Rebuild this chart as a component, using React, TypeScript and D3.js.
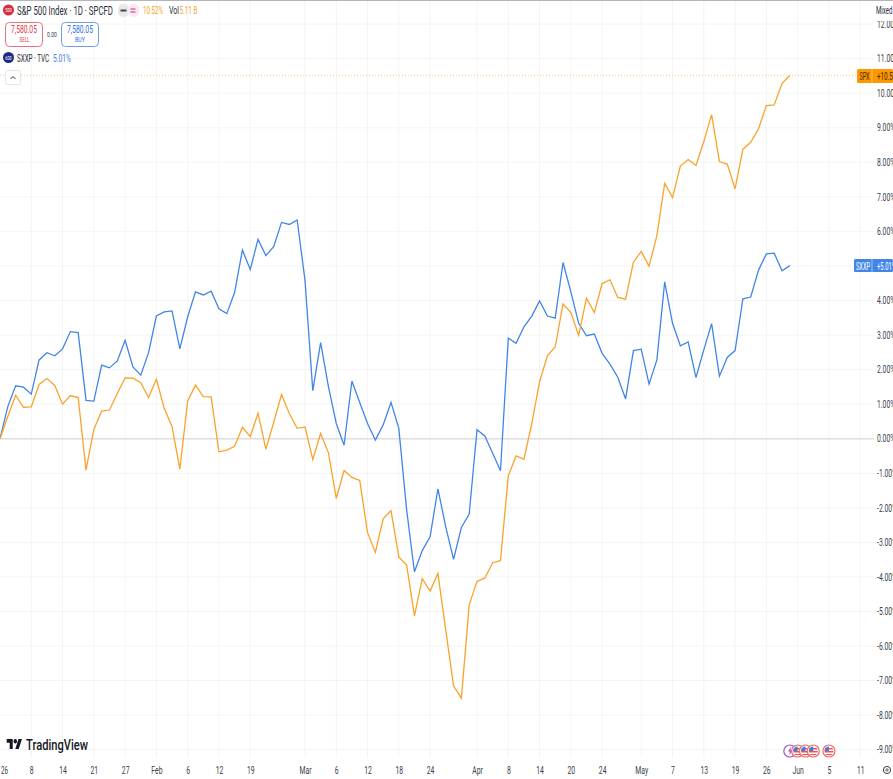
import React, { useEffect, useRef } from 'react';
import * as d3 from 'd3';

// percent change since the start of the window
const spxValues = [
  0, 0.64, 1.26, 0.91, 0.92, 1.57, 1.74, 1.54, 1.0, 1.25,
  1.19, -0.91, 0.27, 0.8, 0.83, 1.31, 1.76, 1.75, 1.62, 1.19,
  1.72, 0.88, 0.35, -0.88, 1.09, 1.55, 1.22, 1.21, -0.38, -0.33,
  -0.22, 0.33, 0.06, 0.74, -0.3, 0.47, 1.28, 0.73, 0.3, 0.34,
  -0.6, 0.15, -0.41, -1.73, -0.92, -1.12, -1.21, -2.72, -3.29, -2.32,
  -2.08, -3.42, -3.66, -5.13, -4.05, -4.41, -3.9, -5.54, -7.15, -7.51,
  -4.81, -4.13, -4.03, -3.59, -3.53, -1.07, -0.5, -0.6, 0.44, 1.65,
  2.4, 2.66, 3.9, 3.65, 2.99, 4.07, 3.65, 4.49, 4.6, 4.09,
  4.04, 5.11, 5.42, 4.99, 5.88, 7.39, 6.98, 7.89, 8.08, 7.91,
  8.6, 9.38, 8.02, 7.95, 7.23, 8.38, 8.58, 8.97, 9.64, 9.66,
  10.28, 10.52,
];
const sxxpValues = [
  0, 0.93, 1.53, 1.49, 1.29, 2.28, 2.49, 2.4, 2.6, 3.1,
  3.07, 1.11, 1.09, 2.13, 2.05, 2.25, 2.85, 2.08, 1.84, 2.49,
  3.55, 3.67, 3.7, 2.6, 3.53, 4.25, 4.16, 4.27, 3.76, 3.62,
  4.23, 5.46, 4.9, 5.77, 5.3, 5.56, 6.26, 6.2, 6.33, 4.59,
  1.39, 2.78, 1.51, 0.44, -0.19, 1.67, 1.05, 0.44, -0.04, 0.4,
  1.05, 0.3, -2.06, -3.85, -3.24, -2.84, -1.45, -2.55, -3.49, -2.57,
  -2.18, 0.26, 0.08, -0.42, -0.93, 2.91, 2.76, 3.24, 3.55, 3.99,
  3.55, 3.49, 5.1, 4.25, 3.34, 2.98, 3.03, 2.47, 2.16, 1.78,
  1.15, 2.55, 2.59, 1.58, 2.28, 4.54, 3.34, 2.69, 2.8, 1.77,
  2.57, 3.33, 1.81, 2.35, 2.55, 4.05, 4.1, 4.88, 5.35, 5.37,
  4.86, 5.01,
];
const dateTickIndex = [4, 8, 12, 16, 20, 24, 28, 32, 39, 43, 47, 51, 55, 61, 65, 69, 73, 77, 82, 86, 90, 94, 98, 102, 106, 110];
const dateTickLabels = ['8', '14', '21', '27', 'Feb', '6', '12', '19', 'Mar', '6', '12', '18', '24', 'Apr', '8', '14', '20', '24', 'May', '7', '13', '19', '26', 'Jun', '5', '11'];
const pctTicks = [-9, -8, -7, -6, -5, -4, -3, -2, -1, 0, 1, 2, 3, 4, 5, 6, 7, 8, 9, 10, 11, 12];
const usEventIndex = [102, 103, 104, 106];

const WIDTH = 893;
const HEIGHT = 779;
const FONT = 'Roboto, sans-serif';
const ORANGE = '#f9a32b';
const BLUE = '#4285e8';
const SQUEEZE = 0.68; // the screenshot is squashed sideways, so the text is too

const x = d3.scaleLinear().domain([0, 114]).range([0, 114 * 7.82]);
const y = d3.scaleLinear().domain([0, 10]).range([438.7, 93.2]);

const lineGen = d3
  .line<number>()
  .x((d, i) => x(i))
  .y((d) => y(d))
  .curve(d3.curveLinear);

// text forced to a given width
const Txt = ({ w, children, ...rest }: any) => (
  <text textLength={w} lengthAdjust="spacingAndGlyphs" {...rest}>
    {children}
  </text>
);

const squeezeText = (g: any) =>
  g
    .selectAll('text')
    .attr('fill', '#3a3e4a')
    .attr('font-size', 10)
    .attr('font-family', FONT)
    .each(function (this: SVGTextElement) {
      d3.select(this)
        .attr('textLength', this.getComputedTextLength() * SQUEEZE)
        .attr('lengthAdjust', 'spacingAndGlyphs');
    });

const UsBadge = ({ cx, id }: { cx: number; id: string }) => (
  <g>
    <clipPath id={id}>
      <circle cx={cx} cy={751} r={4.5} />
    </clipPath>
    <circle cx={cx} cy={751} r={6} fill="#fff" stroke="#ef6b6b" strokeWidth={1.2} />
    <g clipPath={`url(#${id})`}>
      <rect x={cx - 5} y={746} width={10} height={10} fill="#fff" />
      <rect x={cx - 5} y={748} width={10} height={1.5} fill="#ef5350" />
      <rect x={cx - 5} y={751} width={10} height={1.5} fill="#ef5350" />
      <rect x={cx - 5} y={754} width={10} height={1.5} fill="#ef5350" />
      <rect x={cx - 5} y={746} width={5} height={5} fill="#3d7fd9" />
    </g>
  </g>
);

const App = () => {
  const yAxisRef = useRef<SVGGElement>(null);
  const xAxisRef = useRef<SVGGElement>(null);

  useEffect(() => {
    const yAxis = d3
      .axisRight(y)
      .tickValues(pctTicks)
      .tickSize(0)
      .tickPadding(0)
      .tickFormat((d) => `${Number(d).toFixed(2)}%`);
    d3.select(yAxisRef.current)
      .attr('transform', 'translate(877,0)')
      .call(yAxis as any)
      .call((g) => g.select('.domain').remove())
      .call(squeezeText);

    const xAxis = d3
      .axisBottom(x)
      .tickValues(dateTickIndex)
      .tickSize(0)
      .tickPadding(0)
      .tickFormat((d, i) => dateTickLabels[i]);
    d3.select(xAxisRef.current)
      .attr('transform', 'translate(0,766.5)')
      .call(xAxis as any)
      .call((g) => g.select('.domain').remove())
      .call(squeezeText);
  }, []);

  return (
    <svg
      width={WIDTH}
      height={HEIGHT}
      style={{ position: 'absolute', left: 0, top: 0, background: '#fff' }}
      fontFamily={FONT}
    >
      {/* grid */}
      {pctTicks.map((t) => (
        <line key={t} x1={0} x2={874} y1={y(t)} y2={y(t)} stroke="#f4f4f5" />
      ))}
      {dateTickIndex.map((t) => (
        <line key={t} x1={x(t)} x2={x(t)} y1={0} y2={758} stroke="#f4f4f5" />
      ))}
      <line x1={0} x2={874} y1={y(0)} y2={y(0)} stroke="#dedede" strokeWidth={1.6} />
      <line x1={0} x2={WIDTH} y1={0.5} y2={0.5} stroke="#b5b5b5" />

      {/* last value guide */}
      <line x1={0} x2={857} y1={y(10.52)} y2={y(10.52)} stroke="#f9c77e" strokeDasharray="1 2" />

      <path d={lineGen(sxxpValues) ?? ''} fill="none" stroke={BLUE} strokeWidth={1.3} />
      <path d={lineGen(spxValues) ?? ''} fill="none" stroke={ORANGE} strokeWidth={1.3} />

      <g ref={yAxisRef} />
      <g ref={xAxisRef} />
      <Txt x={1} y={773.5} w={7} fontSize={10} fill="#3a3e4a">26</Txt>

      {/* price scale mode */}
      <rect x={875} y={1} width={18} height={20} fill="#fff" />
      <Txt x={876} y={13.5} w={16.5} fontSize={10} fill="#2a2e39">Mixed</Txt>

      {/* last value labels */}
      <rect x={857} y={69} width={36} height={14} rx={1.5} fill="#ff9800" />
      <line x1={872} x2={872} y1={69} y2={83} stroke="#ffc266" />
      <Txt x={859.5} y={79.5} w={10} fontSize={10} fill="#3a2a10">SPX</Txt>
      <Txt x={877} y={79.5} w={24} fontSize={10} fill="#3a2a10">+10.52%</Txt>
      <rect x={854} y={259} width={39} height={13} rx={1.5} fill={BLUE} />
      <line x1={872} x2={872} y1={259} y2={272} stroke="#9cc0f5" />
      <Txt x={856} y={269.5} w={14} fontSize={10} fill="#fff">SXXP</Txt>
      <Txt x={877} y={269.5} w={19} fontSize={10} fill="#fff">+5.01%</Txt>

      {/* legend */}
      <circle cx={8.5} cy={10} r={5.5} fill="#d32f3f" />
      <Txt x={5.2} y={12} w={6.6} fontSize={5} fill="#fff">500</Txt>
      <Txt x={17} y={14.5} w={96} fontSize={12.5} fill="#2a2e39">S&amp;P 500 Index · 1D · SPCFD</Txt>
      <rect x={118} y={4} width={11} height={13} rx={5} fill="#e8e8ea" />
      <rect x={128} y={4} width={11} height={13} rx={5} fill="#fbe9f1" />
      <rect x={120.5} y={9.5} width={6} height={2} fill="#444" />
      <path d="M130.5 9 h5 M130.5 12 h5" stroke="#b0357a" strokeWidth={1} />
      <Txt x={143} y={14} w={20} fontSize={10.5} fill={ORANGE}>10.52%</Txt>
      <Txt x={169} y={14} w={10} fontSize={10.5} fill="#2a2e39">Vol</Txt>
      <Txt x={179.5} y={14} w={18} fontSize={10.5} fill={ORANGE}>5.11 B</Txt>

      <rect x={5.5} y={22.5} width={37} height={24} rx={4} fill="#fff" stroke="#ef6f78" />
      <Txt x={11} y={32.5} w={26} fontSize={10} fill="#e0394a">7,580.05</Txt>
      <Txt x={19.5} y={42} w={10} fontSize={8} fill="#e0394a">SELL</Txt>
      <Txt x={47} y={37} w={10} fontSize={8} fill="#3a3e4a">0.00</Txt>
      <rect x={61.5} y={22.5} width={37} height={24} rx={4} fill="#fff" stroke="#6d9bf0" />
      <Txt x={67} y={32.5} w={26} fontSize={10} fill="#2f6fe0">7,580.05</Txt>
      <Txt x={75} y={42} w={10} fontSize={8} fill="#2f6fe0">BUY</Txt>

      <circle cx={8.5} cy={57.5} r={5.5} fill="#1a2a80" />
      <Txt x={5.2} y={59.5} w={6.6} fontSize={5} fill="#fff">600</Txt>
      <Txt x={17} y={61.5} w={32} fontSize={10.5} fill="#2a2e39">SXXP · TVC</Txt>
      <Txt x={53} y={61.5} w={18} fontSize={10.5} fill={BLUE}>5.01%</Txt>

      <rect x={5.5} y={70.5} width={15} height={14} rx={2} fill="#fff" stroke="#e4e4e6" />
      <path d="M10.5 79 L13 76.5 L15.5 79" fill="none" stroke="#333" strokeWidth={1} />

      {/* watermark */}
      <g transform="translate(6.7,736.8) scale(0.43,0.55)" fill="#131722">
        <path d="M14 22H7V11H0V4h14v18zM28 22h-8l7.5-18h8L28 22z" />
        <circle cx={20} cy={8} r={4} />
      </g>
      <Txt x={26} y={750} w={62} fontSize={15.5} fontWeight={500} fill="#131722">TradingView</Txt>

      {/* events */}
      <circle cx={x(101)} cy={751} r={6} fill="#fff" stroke="#a05cc8" strokeWidth={1.2} />
      <path d="M791 746.5 L788 751.5 L790 751.5 L789 755.5 L792.5 750.5 L790.5 750.5 Z" fill="#a05cc8" />
      {usEventIndex.map((e) => (
        <UsBadge key={e} cx={x(e)} id={`us-${e}`} />
      ))}

      {/* settings */}
      <circle cx={887} cy={770} r={3.6} fill="none" stroke="#3a3e4a" strokeWidth={1} />
      <circle cx={887} cy={770} r={1.2} fill="none" stroke="#3a3e4a" strokeWidth={0.8} />
    </svg>
  );
};

export default App;
